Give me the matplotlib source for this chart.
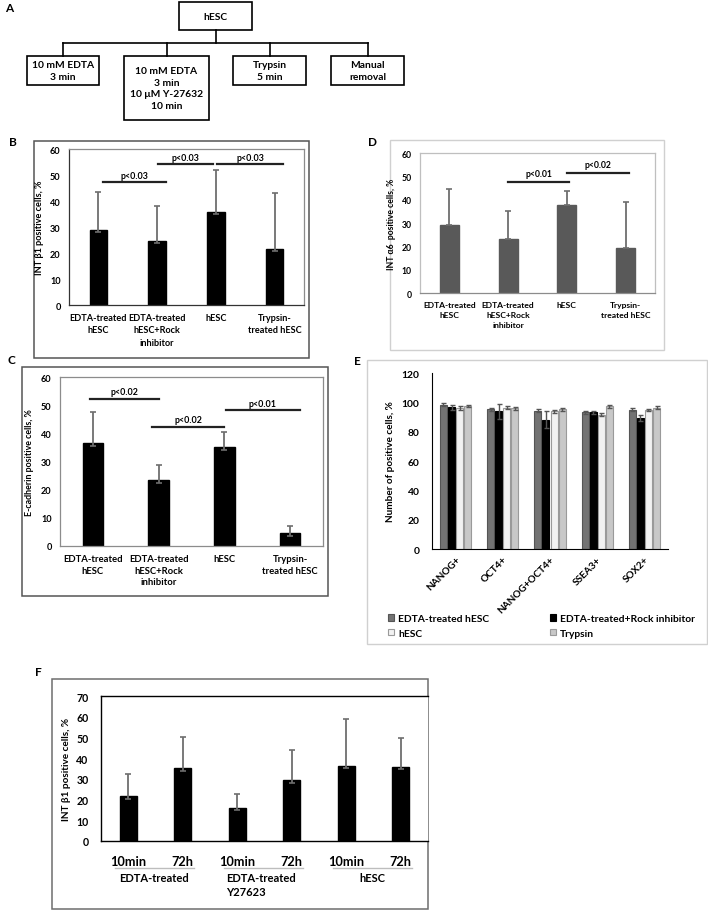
import matplotlib
matplotlib.use('Agg')
import matplotlib.pyplot as plt
from matplotlib.patches import Rectangle
import numpy as np

plt.rcParams['font.family'] = ['Lato', 'DejaVu Sans']
plt.rcParams['font.weight'] = 'bold'
plt.rcParams['axes.labelweight'] = 'bold'

# ---------------- data ----------------
cats4 = ['EDTA-treated\nhESC', 'EDTA-treated\nhESC+Rock\ninhibitor', 'hESC', 'Trypsin-\ntreated hESC']

b_vals = [29.0, 24.7, 35.8, 21.5]
b_err = [14.5, 13.5, 16.3, 21.6]

d_vals = [29.3, 23.1, 37.7, 19.1]
d_err = [15.3, 11.9, 6.2, 19.8]

c_vals = [36.4, 23.4, 35.0, 4.5]
c_err = [11.3, 5.4, 5.6, 2.6]

e_cats = ['NANOG+', 'OCT4+', 'NANOG+OCT4+', 'SSEA3+', 'SOX2+']
e_series = ['EDTA-treated hESC', 'EDTA-treated+Rock inhibitor', 'hESC', 'Trypsin']
e_edta = [98.4, 95.2, 94.3, 93.2, 95.0]
e_rock = [96.5, 93.9, 88.2, 93.2, 89.2]
e_hesc = [96.1, 96.4, 93.9, 91.6, 94.7]
e_tryp = [97.6, 96.1, 95.2, 97.2, 96.3]
e_edta_err = [1.0, 0.8, 0.9, 0.9, 1.0]
e_rock_err = [1.8, 5.0, 5.7, 0.9, 2.0]
e_hesc_err = [1.1, 0.9, 0.9, 0.9, 0.8]
e_tryp_err = [0.9, 1.0, 0.9, 0.9, 1.0]

f_ticks = ['10min', '72h', '10min', '72h', '10min', '72h']
f_groups = ['EDTA-treated', 'EDTA-treated\nY27623', 'hESC']
f_vals = [21.5, 35.1, 16.0, 29.3, 36.4, 35.7]
f_err = [10.9, 15.0, 6.9, 14.6, 22.5, 14.1]

flow_root = 'hESC'
flow_children = ['10 mM EDTA\n3 min', '10 mM EDTA\n3 min\n10 \u03bcM Y-27632\n10 min',
                 'Trypsin\n5 min', 'Manual\nremoval']

# ---------------- figure ----------------
W, H = 708, 912
fig = plt.figure(figsize=(W / 100, H / 100), dpi=100)


def add_ax(x0, y0, x1, y1):
    return fig.add_axes([x0 / W, 1 - y1 / H, (x1 - x0) / W, (y1 - y0) / H])


ov = add_ax(0, 0, W, H)
ov.set_xlim(0, W)
ov.set_ylim(H, 0)
ov.axis('off')


def box(x0, y0, x1, y1, color, lw=1.2):
    ov.add_patch(Rectangle((x0, y0), x1 - x0, y1 - y0, fill=False, edgecolor=color, lw=lw))


def letter(x, y, s):
    ov.text(x, y, s, fontsize=8.5, fontweight='bold', ha='left', va='center')


# ---- Panel A flowchart ----
letter(5, 8, 'A')
box(179, 3, 252, 31, 'black')
ov.text(215.5, 17, flow_root, ha='center', va='center', fontsize=7.4)
ov.plot([215.5, 215.5], [31, 43.5], color='black', lw=1.2)
child_boxes = [(27, 57, 99, 86), (124, 57, 209, 121), (233, 57, 306, 86), (331, 57, 404, 86)]
cx = [(b[0] + b[2]) / 2 for b in child_boxes]
ov.plot([cx[0], cx[-1]], [43.5, 43.5], color='black', lw=1.2)
for (x0, y0, x1, y1), c, t in zip(child_boxes, cx, flow_children):
    ov.plot([c, c], [43.5, y0], color='black', lw=1.2)
    box(x0, y0, x1, y1, 'black')
    ov.text(c, (y0 + y1) / 2, t, ha='center', va='center', fontsize=7.4, linespacing=1.4)

ERR_C = '#6e6e6e'


def bar_panel(ax, vals, err, color, width, lower=0.9, lo_caps=True):
    x = np.arange(len(vals))
    ax.bar(x, vals, width=width, color=color, edgecolor=color, zorder=2)
    lo = [lower if lo_caps else 0] * len(vals)
    ax.errorbar(x, vals, yerr=[lo, err], fmt='none', ecolor=ERR_C, elinewidth=1.3,
                capsize=2.2, capthick=1.2, zorder=3)
    ax.set_xlim(-0.5, len(vals) - 0.5)
    ax.set_xticks(x)
    ax.tick_params(length=0)
    return x


def sig(ax, x0, x1, y, ty, text, fs=6.4):
    ax.plot([x0, x1], [y, y], color='#222222', lw=1.6, zorder=4, clip_on=False)
    ax.text((x0 + x1) / 2, ty, text, ha='center', va='center', fontsize=fs, zorder=4)


# ---- Panel B ----
letter(9, 142, 'B')
box(34, 142, 309, 359, '#555555', lw=1.1)
axB = add_ax(69, 150, 304, 306)
bar_panel(axB, b_vals, b_err, 'black', 0.3)
axB.set_ylim(0, 60)
axB.set_yticks(range(0, 61, 10))
axB.set_xticklabels(cats4, fontsize=6.6, linespacing=1.45, va='top')
axB.tick_params(axis='y', labelsize=6.6, pad=6)
axB.tick_params(axis='x', pad=6)
for s in axB.spines.values():
    s.set_color('#8c8c8c')
    s.set_linewidth(0.9)
axB.spines['left'].set_color('#333333')
axB.spines['bottom'].set_color('#333333')
axB.set_ylabel('INT \u03b21 positive cells, %', fontsize=6.6, labelpad=4)
sig(axB, 0.08, 1.15, 47.2, 49.9, 'p<0.03')
sig(axB, 1.01, 1.95, 54.2, 56.6, 'p<0.03')
sig(axB, 2.02, 3.14, 54.2, 56.6, 'p<0.03')

# ---- Panel D ----
letter(368, 142, 'D')
box(390, 141, 664, 351, '#d0d0d0', lw=1.0)
axD = add_ax(420, 154, 655, 294)
bar_panel(axD, d_vals, d_err, '#595959', 0.32, lo_caps=False)
axD.set_ylim(0, 60)
axD.set_yticks(range(0, 61, 10))
axD.set_xticklabels(cats4, fontsize=6.1, linespacing=1.45, va='top')
axD.tick_params(axis='y', labelsize=6.2, pad=6)
axD.tick_params(axis='x', pad=6)
for s in axD.spines.values():
    s.set_color('#bfbfbf')
    s.set_linewidth(0.9)
axD.spines['bottom'].set_color('#8c8c8c')
axD.set_ylabel('INT \u03b16  positive cells, %', fontsize=6.2, labelpad=4)
sig(axD, 1.0, 2.04, 47.6, 51.4, 'p<0.01', fs=6.2)
sig(axD, 2.0, 3.05, 51.4, 55.0, 'p<0.02', fs=6.2)

# ---- Panel C ----
letter(7, 361, 'C')
box(22, 368, 328, 597, '#555555', lw=1.1)
axC = add_ax(60, 378, 323, 547)
bar_panel(axC, c_vals, c_err, 'black', 0.31)
axC.set_ylim(0, 60)
axC.set_yticks(range(0, 61, 10))
axC.set_xticklabels(cats4, fontsize=6.8, linespacing=1.35, va='top')
axC.tick_params(axis='y', labelsize=6.6, pad=6)
axC.tick_params(axis='x', pad=6)
for s in axC.spines.values():
    s.set_color('#8c8c8c')
    s.set_linewidth(0.9)
axC.set_ylabel('E-cadherin positive cells, %', fontsize=6.4, labelpad=5)
sig(axC, -0.04, 1.0, 52.1, 54.9, 'p<0.02')
sig(axC, 0.9, 2.0, 42.3, 45.0, 'p<0.02')
sig(axC, 2.02, 3.15, 48.3, 50.6, 'p<0.01')

# ---- Panel E ----
letter(354, 362, 'E')
box(367, 361, 707, 645, '#d0d0d0', lw=1.0)
axE = add_ax(432, 374, 668, 550)
xe = np.arange(len(e_cats))
bw = 0.148
step = 0.172
series = [
    (e_edta, e_edta_err, '#737373', '#555555'),
    (e_rock, e_rock_err, '#000000', '#000000'),
    (e_hesc, e_hesc_err, '#f2f2f2', '#9a9a9a'),
    (e_tryp, e_tryp_err, '#c8c8c8', '#9a9a9a'),
]
handles = []
for i, (v, er, fc, ec) in enumerate(series):
    xs = xe + (i - 1.5) * step
    axE.bar(xs, v, width=bw, color=fc, edgecolor=ec, linewidth=0.8, zorder=2)
    axE.errorbar(xs, v, yerr=er, fmt='none', ecolor='#555555', elinewidth=1.0,
                 capsize=1.8, capthick=1.0, zorder=3)
    handles.append(Rectangle((0, 0), 1, 1, facecolor=fc, edgecolor=ec, lw=0.8))
axE.set_xlim(-0.5, 4.5)
axE.set_ylim(0, 120)
axE.set_yticks(range(0, 121, 20))
axE.set_xticks(xe)
axE.set_xticklabels(e_cats, rotation=45, ha='right', rotation_mode='anchor', fontsize=7.2)
axE.tick_params(length=0)
axE.tick_params(axis='y', labelsize=7.4, pad=9)
axE.tick_params(axis='x', pad=4)
axE.spines['top'].set_visible(False)
axE.spines['right'].set_visible(False)
axE.spines['left'].set_color('black')
axE.spines['bottom'].set_color('black')
axE.set_ylabel('Number of positive cells, %', fontsize=7.2, labelpad=5)
order = [0, 2, 1, 3]
fig.legend([handles[i] for i in order], [e_series[i] for i in order], loc='upper left',
           bbox_to_anchor=(388 / W, 1 - 615 / H),
           ncol=2, frameon=False, fontsize=7.4, handlelength=0.6, handleheight=0.6,
           handletextpad=0.4, columnspacing=5.9, labelspacing=0.55, borderaxespad=0,
           borderpad=0)

# ---- Panel F ----
letter(35, 673, 'F')
box(52, 680, 428, 910, '#6e6e6e', lw=1.1)
axF = add_ax(101, 697, 428, 842)
xf = bar_panel(axF, f_vals, f_err, 'black', 0.31, lower=1.1)
axF.set_ylim(0, 70)
axF.set_yticks(range(0, 71, 10))
axF.set_xticklabels(f_ticks, fontsize=9.2)
axF.tick_params(axis='y', labelsize=7.6, pad=9)
axF.tick_params(axis='x', pad=10)
axF.spines['right'].set_visible(False)
for s in ['top', 'left', 'bottom']:
    axF.spines[s].set_color('black')
    axF.spines[s].set_linewidth(1.0)
axF.set_ylabel('INT \u03b21 positive cells, %', fontsize=7.2, labelpad=4)
for g, name in enumerate(f_groups):
    x0, x1 = xf[2 * g] - 0.25, xf[2 * g + 1] + 0.2
    axF.plot([x0, x1], [-13.0, -13.0], color='#bdbdbd', lw=1.0, clip_on=False)
    if g == 1:
        axF.text(x0 + 0.04, -15.2, name, ha='left', va='top', fontsize=8, linespacing=1.25)
    else:
        axF.text((x0 + x1) / 2, -15.2, name, ha='center', va='top', fontsize=8)

fig.savefig('out.png', dpi=100)
